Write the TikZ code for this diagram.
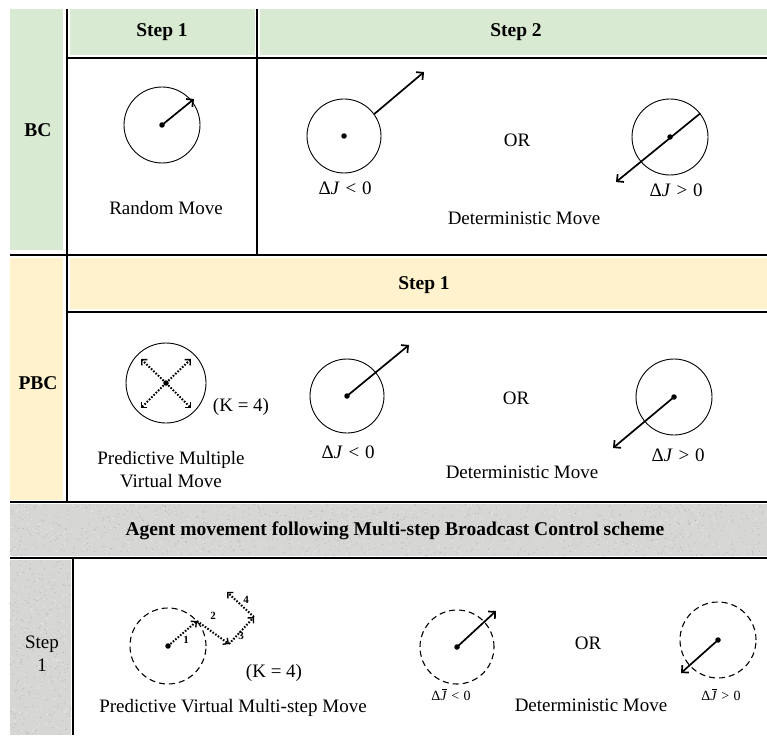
\documentclass[tikz,border=0pt]{standalone}
\usepackage{amsmath}
\usepackage{fontspec}
\setmainfont{Liberation Serif}
\usepackage{tikz}
\usetikzlibrary{calc,arrows.meta}

\definecolor{bcgreen}{RGB}{217,234,211}
\definecolor{pbcyellow}{RGB}{255,242,204}
\definecolor{msgray}{RGB}{214,214,212}

\newcommand{\dJ}{Δ\textit{J}}
\newcommand{\dJbar}{Δ\textit{\rlap{\kern0.12em\rule[0.74em]{0.36em}{0.06em}}J}}
\newcommand{\lt}{\hspace{0.3em}<\hspace{0.3em}}
\newcommand{\gt}{\hspace{0.3em}>\hspace{0.3em}}

\tikzset{
  txt/.style={font=\fontsize{19}{23}\selectfont, inner sep=1pt},
  hdr/.style={font=\fontsize{19.5}{23}\selectfont\bfseries, inner sep=1pt},
  tiny/.style={font=\fontsize{14}{16}\selectfont, inner sep=1pt},
  num/.style={font=\fontsize{11}{12}\selectfont\bfseries, inner sep=0.5pt},
  agent/.style={circle, draw, line width=0.9pt, minimum size=#1, inner sep=0pt},
  agent/.default=76pt,
  vagent/.style={agent=#1, dashed, dash pattern=on 6pt off 4pt, line width=1.1pt},
  vagent/.default=76pt,
  dot/.style={circle, fill, inner sep=0pt, minimum size=5.5pt},
  mv/.style={line width=1.7pt, -{Straight Barb[length=5pt, width=10pt]}},
  vmv/.style={line width=2pt, dash pattern=on 1.6pt off 1.6pt,
    -{Straight Barb[length=4pt, width=8pt, line width=1.4pt]}},
  rule/.style={line width=1.4pt}
}

\begin{document}
\begin{tikzpicture}[x=1pt, y=-1pt]
  \useasboundingbox[fill=white] (0,0) rectangle (767,735);

  % cell fills
  \fill[bcgreen] (10,9) rectangle (63,250);
  \fill[bcgreen] (70,9) rectangle (255,55);
  \fill[bcgreen] (260,9) rectangle (767,55);
  \fill[pbcyellow] (10,258) rectangle (63,500);
  \fill[pbcyellow] (70,258) rectangle (767,309);
  \fill[msgray] (10,504) rectangle (767,556);
  \fill[msgray] (10,560) rectangle (71,735);
  \pgfmathsetseed{11}
  \foreach \k in {1,...,900}
    \fill[gray!55] ({10+757*rnd},{504+52*rnd}) circle (0.6pt);
  \foreach \k in {1,...,500}
    \fill[white!80!gray] ({10+757*rnd},{504+52*rnd}) circle (0.8pt);
  \foreach \k in {1,...,260}
    \fill[gray!55] ({10+61*rnd},{560+175*rnd}) circle (0.6pt);
  \foreach \k in {1,...,150}
    \fill[white!80!gray] ({10+61*rnd},{560+175*rnd}) circle (0.8pt);

  % rules
  \draw[rule] (67,9) -- (67,502);
  \draw[rule] (257,9) -- (257,254);
  \draw[rule] (67,58) -- (767,58);
  \draw[line width=2.6pt] (10,255) -- (767,255);
  \draw[rule] (67,312) -- (767,312);
  \draw[rule] (10,502) -- (767,502);
  \draw[rule] (10,558) -- (767,558);
  \draw[rule] (73,558) -- (73,735);

  % BC
  \node[hdr] (bc) at (38,130) {BC};
  \node[hdr] (bcs1) at (162,32) {Step 1};
  \node[hdr] (bcs2) at (516,32) {Step 2};

  \node[agent] (a1) at (162,125) {};
  \node[dot] (d1) at (a1.center) {};
  \coordinate (t1) at (194,99);
  \draw[mv] (d1.center) -- (t1);
  \node[txt] (rm) at (166,208) {Random Move};

  \node[agent=74pt] (a2) at (344,136) {};
  \node[dot] (d2) at (a2.center) {};
  \coordinate (t2) at (424,72);
  \draw[mv] (a2.36) -- (t2);
  \node[txt] (jl1) at (345,188) {\dJ\lt0};
  \node[txt] (or1) at (517,140) {OR};
  \node[agent] (a3) at (670,137) {};
  \node[dot] (d3) at (a3.center) {};
  \coordinate (t3) at (616,182);
  \draw[mv] (a3.38) -- (t3);
  \node[txt] (jg1) at (676,190) {\dJ\gt0};
  \node[txt] (dm1) at (524,218) {Deterministic Move};

  % PBC
  \node[hdr] (pbc) at (38,383) {PBC};
  \node[hdr] (pbcs1) at (424,285) {Step 1};

  \node[agent=80pt] (a4) at (166,383) {};
  \node[dot] (d4) at (a4.center) {};
  \foreach \n/\dx/\dy in {ne/25/-24, nw/-25/-24, se/25/25, sw/-25/25}
    \coordinate (t4\n) at ($(d4)+(\dx,\dy)$);
  \foreach \n in {ne,nw,se,sw}
    \draw[vmv] (d4.center) -- (t4\n);
  \node[txt] (k1) at (241,407) {(K = 4)};
  \node[txt, align=center] (pm) at (171,470) {Predictive Multiple\\Virtual Move};

  \node[agent=74pt] (a5) at (347,396) {};
  \node[dot] (d5) at (a5.center) {};
  \coordinate (t5) at (409,345);
  \draw[mv] (d5.center) -- (t5);
  \node[txt] (jl2) at (348,452) {\dJ\lt0};
  \node[txt] (or2) at (516,398) {OR};
  \node[agent] (a6) at (674,397) {};
  \node[dot] (d6) at (a6.center) {};
  \coordinate (t6) at (613,448);
  \draw[mv] (d6.center) -- (t6);
  \node[txt] (jg2) at (678,455) {\dJ\gt0};
  \node[txt] (dm2) at (522,472) {Deterministic Move};

  % multi-step BC
  \node[hdr] (ms) at (395,531) {Agent movement following Multi-step Broadcast Control scheme};
  \node[txt, align=center] (mss1) at (42,654) {Step\\1};

  \node[vagent] (a7) at (168,646) {};
  \node[dot] (d7) at (a7.center) {};
  \coordinate (v1) at (197,621);
  \coordinate (v2) at (229,644);
  \coordinate (v3) at (254,617);
  \coordinate (v4) at (227,592);
  \draw[vmv] (d7.center) -- (v1);
  \draw[vmv] (v1) -- (v2);
  \draw[vmv] (v2) -- (v3);
  \draw[vmv] (v3) -- (v4);
  \node[num] (n1) at (186,640) {1};
  \node[num] (n2) at (213,616) {2};
  \node[num] (n3) at (241,636) {3};
  \node[num] (n4) at (246,600) {4};
  \node[txt] (k2) at (274,673) {(K = 4)};
  \node[txt] (pv) at (233,708) {Predictive Virtual Multi-step Move};

  \node[vagent=74pt] (a8) at (457,647) {};
  \node[dot] (d8) at (a8.center) {};
  \coordinate (t8) at (496,611);
  \draw[mv] (d8.center) -- (t8);
  \node[tiny] (jl3) at (451,695) {\dJbar\lt0};
  \node[txt] (or3) at (588,643) {OR};
  \node[vagent] (a9) at (718,640) {};
  \node[dot] (d9) at (a9.center) {};
  \coordinate (t9) at (681,673);
  \draw[mv] (d9.center) -- (t9);
  \node[tiny] (jg3) at (721,695) {\dJbar\gt0};
  \node[txt] (dm3) at (591,705) {Deterministic Move};
\end{tikzpicture}
\end{document}
